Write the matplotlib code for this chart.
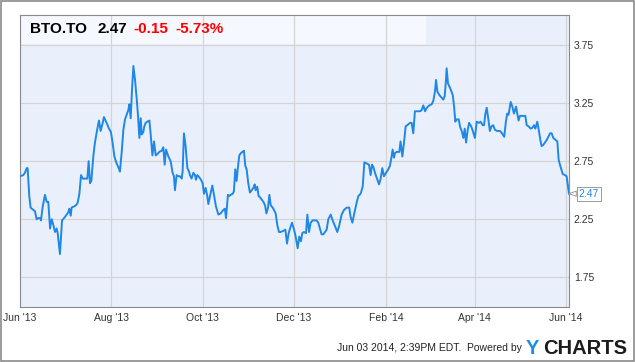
import matplotlib
matplotlib.use("Agg")
import matplotlib.pyplot as plt
import matplotlib.dates as mdates
from matplotlib.patches import Rectangle
import pandas as pd

# days since 2013-06-01 and closing price
days = [0, 2.2, 3.3, 4.5, 5.1, 6.2, 7.1, 8.9, 10.0, 11.1, 12.3, 13.4, 14.0, 15.2, 16.7, 17.8, 18.9,
        20.1, 21.2, 22.3, 23.4, 24.5, 25.2, 26.7, 28.1, 30.1, 32.3, 33.0, 33.9, 34.5, 36.1, 37.4,
        38.5, 39.7, 40.8, 41.9, 43.4, 45.0, 45.9, 46.8, 47.7, 49.0, 50.1, 51.7, 52.8, 53.9, 55.3,
        56.1, 57.9, 59.5, 60.8, 61.9, 63.1, 64.6, 65.7, 66.8, 68.0, 69.1, 70.2, 71.3, 72.4, 73.1,
        74.0, 74.9, 75.8, 76.9, 78.0, 78.9, 79.8, 80.7, 81.3, 82.4, 83.1, 84.0, 85.1, 86.5, 87.3,
        88.5, 89.6, 90.7, 91.8, 93.1, 94.7, 95.8, 96.7, 97.6, 99.2, 100.7, 102.0, 102.9, 103.6,
        104.7, 105.8, 107.0, 108.1, 108.7, 109.6, 110.7, 111.9, 113.0, 113.6, 114.7, 115.9, 117.0,
        117.6, 118.5, 119.9, 121.0, 122.1, 123.0, 124.1, 125.2, 125.9, 127.0, 127.7, 128.6, 129.7,
        131.0, 132.6, 134.1, 135.9, 137.0, 137.7, 139.0, 139.9, 140.8, 142.2, 143.0, 143.9, 144.8,
        145.7, 146.6, 147.7, 149.7, 150.6, 151.5, 152.6, 153.7, 154.9, 156.0, 156.9, 157.5, 158.6,
        159.5, 160.4, 161.5, 162.7, 163.8, 164.7, 165.8, 166.7, 167.6, 168.9, 169.8, 170.9, 172.0,
        173.1, 174.2, 176.0, 177.4, 178.5, 179.6, 180.5, 181.8, 183.2, 184.3, 185.6, 186.7, 187.8,
        188.7, 189.8, 191.2, 192.1, 193.2, 194.3, 195.6, 197.2, 198.3, 199.4, 200.5,
        201.6, 202.8, 205.0, 206.1, 207.7, 209.0, 210.6, 212.1, 213.5, 215.0, 216.6, 218.4, 220.1,
        221.0, 222.2, 223.3, 225.0, 226.2, 227.7, 229.1, 230.2, 231.7, 233.3, 234.4, 235.3, 236.2,
        237.3, 238.9, 240.0, 241.1, 242.2, 243.3, 244.7, 246.2, 247.3, 248.4, 249.1, 250.0, 250.7,
        251.8, 253.6, 254.4, 255.6, 256.7, 257.8, 258.9, 260.7, 261.8, 262.9, 264.0, 265.2, 267.4,
        268.5, 269.6, 270.8, 271.9, 273.6, 275.2, 276.3, 277.4, 278.1, 279.0, 280.3, 281.7, 283.0,
        283.9, 284.6, 285.2, 286.1, 287.5, 289.3, 290.2, 291.0, 291.9, 293.3, 294.1, 295.5, 296.4,
        297.3, 298.2, 299.3, 300.2, 301.6, 302.7, 304.1, 305.3, 306.8, 307.9, 309.3, 310.2, 311.1,
        312.0, 313.1, 314.1, 315.2, 316.3, 317.5, 319.0, 320.9, 322.2, 323.7, 324.8, 325.7, 326.6,
        328.0, 329.1, 330.2, 331.6, 332.4, 333.3, 334.2, 336.0, 337.8, 338.7, 340.0, 341.4, 342.7,
        343.6, 344.5, 345.8, 346.9, 348.0, 348.7, 349.8, 350.9, 352.0, 353.2, 354.3, 355.4, 356.5,
        358.3, 359.2, 360.1, 361.4, 362.8, 364.3, 365.4, 367.0]

price = [2.62, 2.63, 2.65, 2.69, 2.69, 2.45, 2.35, 2.33, 2.32, 2.25, 2.26, 2.26, 2.24, 2.36, 2.46, 2.40, 2.40,
         2.17, 2.25, 2.20, 2.14, 2.17, 2.13, 1.95, 2.24, 2.27, 2.31, 2.34, 2.28, 2.35, 2.36, 2.37,
         2.39, 2.47, 2.63, 2.60, 2.60, 2.60, 2.75, 2.56, 2.58, 2.79, 2.91, 3.03, 3.10, 3.01, 3.08,
         3.13, 3.08, 3.03, 3.00, 2.91, 2.79, 2.73, 2.70, 2.66, 2.83, 3.02, 3.11, 3.15, 3.19, 3.24,
         3.12, 3.37, 3.57, 3.45, 3.29, 3.14, 2.95, 3.12, 2.98, 3.00, 3.05, 3.08, 3.09, 3.10, 2.99,
         2.80, 2.92, 2.80, 2.81, 2.83, 2.84, 2.87, 2.72, 2.85, 2.79, 2.75, 2.65, 2.62, 2.50,
         2.63, 2.62, 2.62, 2.60, 2.66, 2.99, 2.88, 2.69, 2.66, 2.63, 2.60, 2.65, 2.63,
         2.59, 2.63, 2.61, 2.59, 2.56, 2.47, 2.52, 2.45, 2.38, 2.45, 2.49, 2.54, 2.46,
         2.36, 2.29, 2.30, 2.33, 2.34, 2.26, 2.46, 2.45, 2.46, 2.47, 2.49, 2.68, 2.58,
         2.70, 2.80, 2.82, 2.84, 2.71, 2.68, 2.56, 2.48, 2.50, 2.52, 2.55, 2.50, 2.53,
         2.45, 2.44, 2.42, 2.40, 2.37, 2.30, 2.35, 2.46, 2.37, 2.35, 2.33, 2.30, 2.20,
         2.14, 2.14, 2.15, 2.16, 2.04, 2.13, 2.17, 2.22, 2.16, 2.10, 2.00, 2.10, 2.06,
         2.13, 2.14, 2.13, 2.29, 2.14, 2.22, 2.24, 2.24, 2.24, 2.22, 2.17,
         2.12, 2.12, 2.16, 2.25, 2.29, 2.24, 2.19, 2.14, 2.20, 2.29, 2.33, 2.35, 2.35,
         2.27, 2.22, 2.29, 2.39, 2.45, 2.47, 2.53, 2.74, 2.73, 2.72, 2.63, 2.72, 2.70,
         2.65, 2.59, 2.55, 2.60, 2.69, 2.62, 2.65, 2.68, 2.71, 2.79, 2.85, 2.78, 2.82,
         2.83, 2.83, 2.92, 2.79, 2.91, 3.05, 3.06, 3.08, 3.08, 2.99, 3.18, 3.18, 3.18,
         3.19, 3.23, 3.18, 3.21, 3.23, 3.24, 3.27, 3.35, 3.45, 3.35, 3.32, 3.30, 3.28,
         3.31, 3.42, 3.55, 3.42, 3.38, 3.32, 3.22, 3.09, 3.11, 3.11, 3.05, 3.00, 2.95,
         3.03, 2.91, 3.02, 3.08, 3.05, 3.01, 2.95, 3.09, 3.08, 3.09, 3.06, 3.06, 3.16,
         3.21, 3.11, 3.01, 3.05, 3.06, 3.02, 3.01, 3.01, 2.99, 2.96, 3.09, 3.16, 3.15,
         3.26, 3.22, 3.16, 3.22, 3.16, 3.10, 3.14, 3.14, 3.14, 3.06, 3.05, 3.03, 3.04,
         3.06, 3.03, 3.09, 3.01, 2.92, 2.88, 2.89, 2.91, 2.93, 2.96, 2.99, 2.99, 2.95,
         2.93, 2.92, 2.76, 2.70, 2.64, 2.63, 2.62, 2.47]

yticks = [1.75, 2.25, 2.75, 3.25, 3.75]
xtick_dates = ["2013-06-01", "2013-08-01", "2013-10-01", "2013-12-01",
               "2014-02-01", "2014-04-01", "2014-06-01"]
xtick_labels = ["Jun '13", "Aug '13", "Oct '13", "Dec '13", "Feb '14", "Apr '14", "Jun '14"]

ticker = "BTO.TO"
last = "2.47"
change = "-0.15"
change_pct = "-5.73%"
footer = "Jun 03 2014, 2:39PM EDT.  Powered by"


def main():
    plt.rcParams['font.family'] = ['Liberation Sans', 'DejaVu Sans']
    blue = '#1f87e6'
    grid = '#d4d4d4'

    start = pd.Timestamp("2013-06-01")
    dates = start + pd.to_timedelta(days, unit='D')

    fig = plt.figure(figsize=(6.35, 3.62), dpi=100)
    ax = fig.add_axes([20 / 635, 1 - 307 / 362, 549 / 635, 292 / 362])
    ax.set_facecolor('#eaf0fb')

    # light band behind the title
    ax.add_patch(Rectangle((0, 0.90), 0.74, 0.10, transform=ax.transAxes,
                           facecolor='#f5f8fe', edgecolor='none', zorder=0.2))

    ax.plot(dates, price, color=blue, lw=1.4, zorder=3)

    ax.set_xlim(start, start + pd.Timedelta(days=367))
    ax.set_ylim(1.494, 4.009)

    ax.set_yticks(yticks)
    ax.set_yticklabels(["%.2f" % v for v in yticks])
    ax.yaxis.tick_right()
    ax.set_xticks(pd.to_datetime(xtick_dates))
    ax.set_xticklabels(xtick_labels)
    ax.tick_params(axis='both', length=0, labelsize=7.5, colors='#333333')
    ax.tick_params(axis='y', pad=3.5)
    ax.tick_params(axis='x', pad=4.5)

    ax.grid(True, color=grid, lw=0.9)
    ax.set_axisbelow(True)
    for s in ax.spines.values():
        s.set_color('#8a8a8a')
        s.set_linewidth(0.8)

    # last price callout with a small notch pointing at the line end
    ax.annotate(last, xy=(dates[-1], price[-1]), xytext=(7, 0), textcoords='offset points',
                ha='left', va='center', fontsize=7.5, color=blue, annotation_clip=False,
                bbox=dict(boxstyle='square,pad=0.2', fc='white', ec='#9a9a9a', lw=0.7),
                arrowprops=dict(arrowstyle='wedge,tail_width=0.5', fc='white', ec='#9a9a9a',
                                lw=0.7, shrinkA=0, shrinkB=0))

    # title
    ty = 1 - 29 / 362
    fig.text(30 / 635, ty, ticker, fontsize=11, fontweight='bold', va='center')
    fig.text(97 / 635, ty, last, fontsize=11, fontweight='bold', va='center')
    fig.text(133 / 635, ty, change, fontsize=11, fontweight='bold', va='center', color='#ff0000')
    fig.text(175 / 635, ty, change_pct, fontsize=11, fontweight='bold', va='center', color='#ff0000')

    # footer
    fig.text(522 / 635, 1 - 348 / 362, footer, fontsize=7.5, ha='right', va='center', color='#222222')
    fig.text(526 / 635, 1 - 349 / 362, "Y", fontsize=14.5, fontweight='bold', ha='left',
             va='center', color='#1f8fe3')
    fig.text(627 / 635, 1 - 349 / 362, "CHARTS", fontsize=14.5, fontweight='bold', ha='right',
             va='center', color='#1c1c1c')

    # outer border
    fig.patches.append(Rectangle((0.0008, 0.0014), 0.9984, 0.9972, transform=fig.transFigure,
                                 fill=False, edgecolor='#8a8a8a', lw=1.2))

    fig.savefig('out.png', dpi=100)


if __name__ == "__main__":
    main()
